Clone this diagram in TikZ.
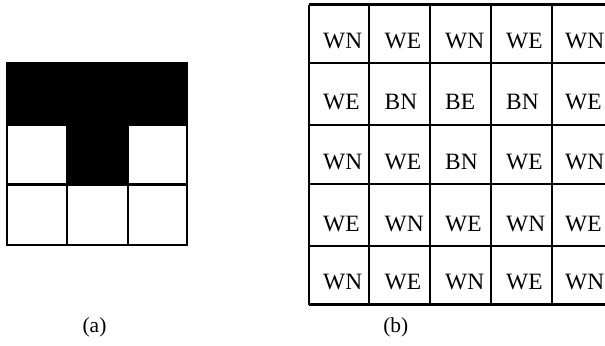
\documentclass[tikz,border=0pt]{standalone}
\usepackage{fontspec}
\setmainfont{Liberation Serif}
\begin{document}
\begin{tikzpicture}[x=1bp,y=-1bp,
  gridline/.style={line width=2.6bp},
  celltxt/.style={anchor=base west, inner sep=0pt, font=\fontsize{23.5}{26}\selectfont},
  captxt/.style={anchor=base, inner sep=0pt, font=\fontsize{21.5}{23}\selectfont}]
\useasboundingbox (0,0) rectangle (605,345);
\clip (0,0) rectangle (605,345);
% (a) grid
\fill (7,63) rectangle (187,124.5);
\fill (67,124.5) rectangle (128,184.5);
\draw[gridline] (7,63) rectangle (187,245);
\draw[gridline] (7,124.5) -- (187,124.5);
\draw[gridline] (7,184.5) -- (187,184.5);
\draw[gridline] (67,124.5) -- (67,245);
\draw[gridline] (128,124.5) -- (128,245);
% (b) grid
\foreach \x in {309,369,430,491,552,613} \draw[gridline] (\x,4.5) -- (\x,304.5);
\foreach \y in {4.5,63,125,184,246,304.5} \draw[gridline] (309,\y) -- (613,\y);
\foreach \r/\b/\la/\lb/\lc/\ld/\le in {
  1/48/WN/WE/WN/WE/WN,
  2/109.3/WE/BN/BE/BN/WE,
  3/169.3/WN/WE/BN/WE/WN,
  4/231/WE/WN/WE/WN/WE,
  5/289.3/WN/WE/WN/WE/WN}{
  \node[celltxt] (c\r1) at (323,\b) {\la};
  \node[celltxt] (c\r2) at (384.5,\b) {\lb};
  \node[celltxt] (c\r3) at (445,\b) {\lc};
  \node[celltxt] (c\r4) at (506,\b) {\ld};
  \node[celltxt] (c\r5) at (565,\b) {\le};
}
\node[captxt] (capa) at (94.5,332) {(a)};
\node[captxt] (capb) at (395.8,332) {(b)};
\end{tikzpicture}
\end{document}
